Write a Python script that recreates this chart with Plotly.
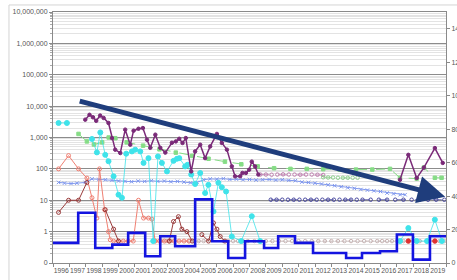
import math
import plotly.graph_objects as go

# ---------------- data ----------------
years = list(range(1996, 2020))
y_tickvals = [0.1, 1, 10, 100, 1000, 10000, 100000, 1000000, 10000000]
y_ticktext = ["0", "1", "10", "100", "1,000", "10,000", "100,000", "1,000,000", "10,000,000"]
y2_tickvals = [0, 20, 40, 60, 80, 100, 120, 140]

purple_x = [1997.97, 1998.23, 1998.44, 1998.64, 1998.88, 1999.09, 1999.39, 1999.60, 1999.80, 2000.11,
            2000.41, 2000.72, 2000.92, 2001.22, 2001.49, 2001.74, 2001.94, 2002.25, 2002.55, 2002.86,
            2003.26, 2003.50, 2003.71, 2003.91, 2004.11, 2004.44, 2004.68, 2004.99, 2005.29, 2005.60,
            2006.01, 2006.31, 2006.62, 2006.92, 2007.12, 2007.43, 2007.57, 2007.78, 2007.98, 2008.14,
            2008.34, 2008.54, None, 2017.19, 2017.70, 2018.21, 2018.65, 2019.32, 2019.80]
purple_y = [3700, 5300, 4400, 3400, 5000, 4200, 2900, 960, 410, 320,
            1780, 590, 1650, 1900, 2000, 850, 470, 1230, 470, 330,
            680, 750, 910, 670, 960, 83, 360, 590, 220, 520,
            1300, 670, 410, 120, 58, 58, 74, 74, 94, 170,
            120, 66, None, 45, 280, 51, 110, 460, 155]

cyan_x = [1996.34, 1996.85, None, 1998.38, 1998.68, 1998.89, 1999.19, 1999.39, 1999.70, 2000.00, 2000.21,
          2000.47, 2000.82, 2001.02, 2001.33, 2001.53, 2001.83, 2002.12, 2002.41, 2002.65, 2002.96,
          2003.36, 2003.57, 2003.71, 2004.07, 2004.21, 2004.44, 2004.68, 2004.99, 2005.29, 2005.49,
          2005.80, 2006.10, 2006.31, 2006.57, 2006.92, 2007.49, 2008.14, 2008.65, None,
          2017.19, 2017.70, 2018.21, 2018.84, 2019.32, 2019.75]
cyan_y = [2900, 2900, None, 900, 335, 1450, 280, 175, 58, 15, 12,
          305, 360, 410, 360, 155, 220, 0.5, 250, 155, 83,
          180, 210, 220, 120, 135, 66, 33, 74, 17, 31,
          4.4, 36, 26, 19, 0.7, 0.5, 3.1, 0.5, None,
          0.5, 1.3, 0.5, 0.5, 2.4, 0.5]

green_x = [1997.56, 1998.07, 1998.5, 1999.0, 1999.4, 1999.8, 2000.5, 2001.5, 2002.5, 2003.5,
           2004.5, 2005.5, 2006.5, 2007.5, 2008.5, 2009.5, 2010.5, 2011.5, 2012.5, 2013.5,
           2014.5, 2015.5, 2016.58, 2017.19, 2018.21, 2018.65, 2019.32, 2019.73]
green_y = [1300, 750, 600, 700, 1000, 950, 700, 550, 420, 330,
           260, 210, 170, 140, 120, 105, 100, 100, 98, 95,
           95, 95, 100, 52, 49, 110, 52, 52]

blue_x_x = [1996.34, 1996.7, 1997.1, 1997.46, 1997.97, 1998.38, 1998.8, 1999.2, 1999.6, 2000.0,
            2000.4, 2000.8, 2001.2, 2001.6, 2002.0, 2002.4, 2002.8, 2003.2, 2003.6, 2004.0,
            2004.4, 2004.8, 2005.2, 2005.6, 2006.0, 2006.4, 2006.8, 2007.2, 2007.6, 2008.0,
            2008.4, 2008.8, 2009.2, 2009.6, 2010.0, 2010.4, 2010.8, 2011.2, 2011.6, 2012.0,
            2012.4, 2012.8, 2013.2, 2013.6, 2014.0, 2014.4, 2014.8, 2015.2, 2015.6, 2016.0,
            2016.4, 2016.8, 2017.2, 2017.5]
blue_x_y = [37, 35, 34, 35, 37, 48, 46, 45, 43, 41,
            40, 39, 41, 40, 42, 40, 41, 39, 40, 38,
            36, 37, 45, 48, 47, 49, 46, 47, 45, 46,
            44, 45, 46, 44, 45, 43, 42, 38, 37, 35,
            33, 31, 29, 27, 25, 24, 22, 21, 20, 19,
            17, 16, 15, 15]

salmon_x = [1996.34, 1996.95, 1997.56, 1998.07, 1998.38, 1998.68, 1998.84, 1999.15, 1999.39, 1999.5,
            1999.7, 2000.0, 2000.29, 2000.59, 2000.9, 2001.22, 2001.53, 2001.83, 2002.04, 2002.24,
            2002.5, 2002.8, 2003.1, 2003.4, 2003.7, 2004.0, 2004.3]
salmon_y = [100, 265, 100, 51, 12, 2.7, 100, 5, 1, 0.55,
            0.5, 0.5, 0.5, 0.5, 0.5, 10, 2.7, 2.7, 2.5, 0.5,
            0.5, 0.5, 0.5, 0.5, 0.5, 0.5, 0.5]

maroon_x = [1996.34, 1996.95, 1997.56, 1998.07, None, 1999.19, 1999.7, 2000.0, None,
            2003.1, 2003.36, 2003.66, 2003.87, 2004.18, 2004.5, None,
            2005.09, 2005.5, 2005.8, 2006.01, 2006.21, 2006.5]
maroon_y = [4.1, 10, 10, 37, None, 5, 1.2, 0.5, None,
            0.5, 2.1, 3.0, 1.2, 1.0, 0.5, None,
            0.8, 0.5, 1.9, 1.2, 0.7, 0.5]

pink_o_x = [2008.66, 2009.0, 2009.35, 2009.7, 2010.05, 2010.4, 2010.75, 2011.1, 2011.45, 2011.8, 2012.15, 2012.5]
pink_o_y = [66, 66, 65, 66, 67, 66, 66, 65, 66, 66, 65, 64]

green_o_x = [2012.5, 2012.8, 2013.1, 2013.4, 2013.7, 2014.0, 2014.3, 2014.6]
green_o_y = [54, 53, 53, 52, 52, 52, 52, 52]

navy_o_x = [2009.3, 2009.65, 2010.0, 2010.35, 2010.7, 2011.05, 2011.4, 2011.75, 2012.1, 2012.45,
            2012.8, 2013.15, 2013.5, 2013.85, 2014.2, 2014.55, 2014.9, 2015.4, 2015.9, 2016.4,
            2016.9, 2017.4, 2017.9, 2018.4, 2018.9, 2019.4, 2019.9]
navy_o_y = [10.4, 10.4, 10.4, 10.4, 10.4, 10.4, 10.4, 10.4, 10.4, 10.4,
            10.4, 10.4, 10.4, 10.4, 10.4, 10.4, 10.4, 10.4, 10.4, 10.4,
            10.4, 10.4, 10.4, 10.4, 10.4, 10.4, 10.4]

base_x = [2002.25, 2002.6, 2002.9, 2003.2, 2004.3, 2004.6, 2004.9, 2005.2, 2006.4, 2006.7,
          2007.0, 2007.3, 2007.6, 2007.9, 2008.3, 2008.6, 2009.0, 2009.4, 2009.8, 2010.2,
          2010.6, 2011.0, 2011.4, 2011.8, 2012.2, 2012.6, 2013.0, 2013.4, 2013.8, 2014.2,
          2014.6, 2015.0, 2015.4, 2015.8, 2016.1, 2016.4, 2016.7, 2017.0, 2017.4, 2018.0,
          2018.4, 2019.0, 2019.6, 2019.9]
base_y = [0.5] * len(base_x)

red_x = [2017.70, 2019.32]
red_y = [0.5, 0.5]

step_x = [1996.0, 1997.54, 1998.58, 1999.62, 2000.59, 2001.63, 2002.55, 2003.46, 2004.68, 2005.72,
          2006.70, 2007.73, 2008.89, 2009.75, 2010.78, 2011.88, 2013.90, 2014.87, 2015.97, 2017.0,
          2017.98, 2019.02, 2020.0]
step_v = [12, 30, 9, 11, 18, 4, 16, 10, 38, 13,
          3, 13, 9, 16, 12, 6, 3, 6, 7, 17,
          2, 16, 16]

trend_start = (1997.54, 14800)
trend_end = (2019.95, 13)

# ---------------- figure ----------------
fig = go.Figure()

def add(x, y, color, width=1, dash="solid", symbol="circle", size=4, mode="lines+markers",
        mcolor=None, mline=None, yaxis="y", shape="linear"):
    fig.add_trace(go.Scatter(
        x=x, y=y, mode=mode, yaxis=yaxis, connectgaps=False,
        line=dict(color=color, width=width, dash=dash, shape=shape),
        marker=dict(symbol=symbol, size=size, color=mcolor or color,
                    line=dict(color=mline or color, width=1)),
        hoverinfo="skip"))

add(base_x, base_y, "#c8b4b4", width=0.8, dash="dot", symbol="circle-open", size=3.5)
add(navy_o_x, navy_o_y, "#4a4aa0", width=0.8, dash="dash", symbol="circle-open", size=3.5)
add(pink_o_x, pink_o_y, "#c080b0", width=0.8, dash="dash", symbol="circle-open", size=3.5)
add(green_o_x, green_o_y, "#8fd08f", width=0.8, dash="dash", symbol="circle-open", size=3.5)
add(green_x, green_y, "#86dc86", width=1, dash="dash", symbol="square", size=3.5)
add(blue_x_x, blue_x_y, "#8098ee", width=1, symbol="x-thin-open", size=3.5)
add(salmon_x, salmon_y, "#f07f72", width=1, symbol="circle-open", size=4)
add(maroon_x, maroon_y, "#9a3a3a", width=1, symbol="circle-open", size=4)
add(cyan_x, cyan_y, "#3fe3ea", width=0.8, symbol="circle", size=5)
add(purple_x, purple_y, "#7a2a78", width=1.5, symbol="circle", size=3.5)
add(red_x, red_y, "#e03030", mode="markers", symbol="circle", size=4.5)
add(step_x, step_v, "#1414e0", width=2.6, mode="lines", yaxis="y2", shape="hv")

fig.add_annotation(
    x=trend_end[0], y=math.log10(trend_end[1]),
    ax=trend_start[0], ay=math.log10(trend_start[1]),
    xref="x", yref="y", axref="x", ayref="y",
    text="", showarrow=True, arrowhead=2, arrowsize=1.1, arrowwidth=5,
    arrowcolor="#1f3d7c", standoff=0, startstandoff=0)

fig.add_shape(type="rect", xref="paper", yref="paper",
              x0=-0.112, x1=1.2, y0=-0.3, y1=1.028,
              line=dict(color="#d4d4d4", width=1), layer="below")

axis_font = dict(family="Liberation Sans, Arial, sans-serif", size=7, color="#555555")

fig.update_layout(
    width=457, height=280,
    margin=dict(l=53, r=11, t=12, b=17, autoexpand=False),
    paper_bgcolor="white", plot_bgcolor="white",
    showlegend=False,
    font=axis_font,
    xaxis=dict(
        range=[1996, 2020], automargin=False,
        tickmode="array",
        tickvals=[y + 0.5 for y in years],
        ticktext=[str(y) for y in years],
        tickangle=0,
        ticks="", showgrid=False, zeroline=False,
        showline=True, linecolor="#8a8a8a", linewidth=1, mirror=True,
        tickfont=dict(family="Liberation Sans, Arial, sans-serif", size=6.8, color="#555555"),
        ticklabelstandoff=1,
        minor=dict(ticks="outside", ticklen=3, tick0=1996, dtick=1,
                   tickcolor="#8a8a8a", showgrid=False),
    ),
    yaxis=dict(
        type="log", range=[-1, 7], automargin=False,
        tickmode="array", tickvals=y_tickvals, ticktext=y_ticktext,
        ticks="outside", ticklen=3, tickcolor="#8a8a8a",
        showgrid=True, gridcolor="#8c8c8c", gridwidth=1.3,
        showline=True, linecolor="#8a8a8a", linewidth=1, mirror=True,
        zeroline=False, tickfont=axis_font,
        minor=dict(ticks="outside", ticklen=2, tickcolor="#aaaaaa",
                   showgrid=True, gridcolor="#e3e3e3", gridwidth=1, dtick="D1"),
    ),
    yaxis2=dict(
        overlaying="y", side="right", range=[0, 150], automargin=False,
        tickmode="array", tickvals=y2_tickvals,
        ticks="outside", ticklen=3, tickcolor="#8a8a8a",
        showgrid=False, zeroline=False, showline=False,
        tickfont=axis_font,
    ),
)

fig.write_html("out.html", config={"displayModeBar": False},
               post_script="document.body.style.margin='0';")
